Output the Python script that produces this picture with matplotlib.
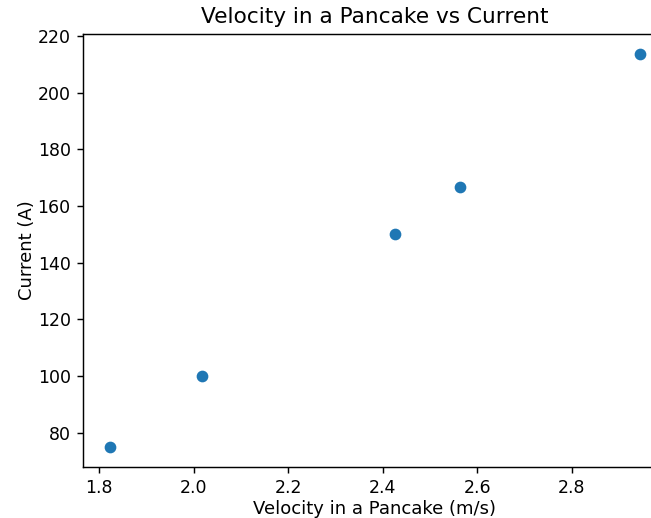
import matplotlib
matplotlib.use('Agg')
import matplotlib.pyplot as plt

# velocity through the pancake vs measured current
velocity = [1.823, 2.017, 2.426, 2.563, 2.944]
current = [75, 100, 150, 166.7, 213.8]
x_ticks = [1.8, 2.0, 2.2, 2.4, 2.6, 2.8]

fig = plt.figure(figsize=(651 / 130, 518 / 130), dpi=130)
ax = fig.add_axes([0.128, 0.0994, 0.8957, 0.835])

ax.scatter(velocity, current, s=30)
ax.set_xticks(x_ticks)
ax.set_title('Velocity in a Pancake vs Current')
ax.set_xlabel('Velocity in a Pancake (m/s)', labelpad=1.5)
ax.set_ylabel('Current (A)', labelpad=1)
ax.tick_params(labelsize=9.6)

fig.savefig('out.png', dpi=130)
